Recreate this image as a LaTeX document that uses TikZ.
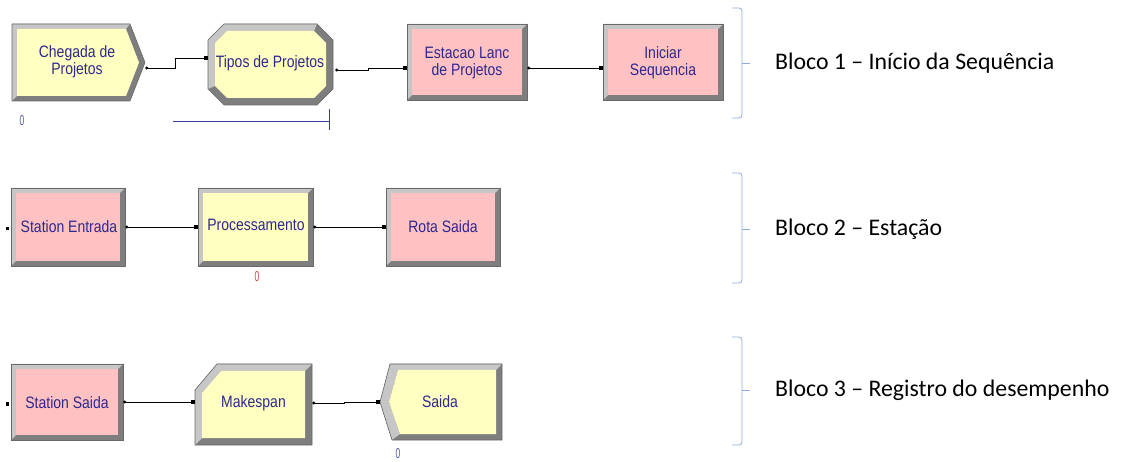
\documentclass[tikz,border=0pt]{standalone}
\usepackage{fontspec}
\setmainfont{Liberation Sans}
\newfontfamily\calib{Carlito}
\usetikzlibrary{arrows.meta}

\definecolor{bevlight}{RGB}{198,198,198}
\definecolor{bevdark}{RGB}{126,126,126}
\definecolor{edgegray}{RGB}{105,105,105}
\definecolor{modyellow}{RGB}{255,255,194}
\definecolor{modpink}{RGB}{255,193,193}
\definecolor{labelnavy}{RGB}{46,40,140}
\definecolor{bracecol}{RGB}{143,170,220}
\definecolor{countblue}{RGB}{80,90,170}
\definecolor{countred}{RGB}{190,80,60}
\definecolor{barblue}{RGB}{60,60,160}

% bevelled rectangular module: x1 y1 x2 y2 bevel fill
\newcommand\bevelbox[6]{%
  \fill[bevdark] (#1,#2) rectangle (#3,#4);
  \fill[bevlight] (#1,#4) -- (#1,#2) -- (#3,#2) -- ({#3-#5},{#2+#5})
    -- ({#1+#5},{#2+#5}) -- ({#1+#5},{#4-#5}) -- cycle;
  \fill[#6] ({#1+#5},{#2+#5}) rectangle ({#3-#5},{#4-#5});
  \draw[edgegray,line width=0.6] (#1,#2) rectangle (#3,#4);
}

\begin{document}
\begin{tikzpicture}[x=1pt,y=-1pt,
  modlabel/.style={text=labelnavy,font=\fontsize{14}{14.5}\selectfont,
    align=center,inner sep=0pt,yscale=1.18},
  modarea/.style 2 args={draw=none,minimum width=#1,minimum height=#2,inner sep=0pt},
  conn/.style={line width=0.8pt,black,{Circle[length=3pt]}-{Square[length=3.5pt,width=3.5pt]}},
  count/.style={font=\fontsize{13}{13}\selectfont,xscale=0.65,yscale=1.1,inner sep=0pt},
  brace/.style={bracecol,line width=0.8pt,rounded corners=3pt},
  blocklabel/.style={anchor=west,inner sep=0pt,font=\calib\fontsize{23.8}{28}\selectfont}]
\useasboundingbox (0,0) rectangle (1125,462);
\fill[white] (0,0) rectangle (1125,462);

% ---------- Block 1 ----------
% Create module (arrow shape)
\fill[bevdark] (12,24) -- (130,24) -- (145,62.5) -- (130,101) -- (12,101) -- cycle;
\fill[bevlight] (12,101) -- (12,24) -- (130,24) -- (126,29) -- (17,29) -- (17,96) -- cycle;
\fill[modyellow] (17,29) -- (126,29) -- (139,62.5) -- (126,96) -- (17,96) -- cycle;
\draw[edgegray,line width=0.6] (12,24) -- (130,24) -- (145,62.5) -- (130,101) -- (12,101) -- cycle;
\node[modarea={133pt}{77pt}] (chegada) at (78.5,62.5) {};
\node[modlabel] at (77,62) {Chegada de\\Projetos};

% Decide module (octagon)
\fill[bevdark] (224,24) -- (317,24) -- (333,40) -- (333,89) -- (317,105) -- (224,105) -- (208,89) -- (208,40) -- cycle;
\fill[bevlight] (208,89) -- (208,40) -- (224,24) -- (317,24) -- (314,31) -- (227,31) -- (215,43) -- (215,86) -- cycle;
\fill[modyellow] (227,31) -- (314,31) -- (326,43) -- (326,86) -- (314,98) -- (227,98) -- (215,86) -- (215,43) -- cycle;
\draw[edgegray,line width=0.6] (224,24) -- (317,24) -- (333,40) -- (333,89) -- (317,105) -- (224,105) -- (208,89) -- (208,40) -- cycle;
\node[modarea={125pt}{81pt}] (tipos) at (270.5,64.5) {};
\node[modlabel] at (270,63) {Tipos de Projetos};

\bevelbox{407}{24}{527}{100}{5}{modpink}
\node[modarea={120pt}{76pt}] (estacao) at (467,62) {};
\node[modlabel] at (467,63) {Estacao Lanc\\de Projetos};

\bevelbox{603}{24}{723}{100}{5}{modpink}
\node[modarea={120pt}{76pt}] (iniciar) at (663,62) {};
\node[modlabel] at (663,63) {Iniciar\\Sequencia};

\draw[conn] ([yshift=-5.5pt]chegada.east) -- ++(30,0) |- ([yshift=6.5pt]tipos.west);
\draw[conn] ([xshift=2pt,yshift=-5.5pt]tipos.east) -- ++(33,0) |- ([yshift=-6pt]estacao.west);
\draw[conn] ([yshift=-6pt]estacao.east) -- ([yshift=-6pt]iniciar.west);

\node[count,text=countblue] (c1) at (22,121) {0};
\draw[barblue,line width=0.9pt] (173,121) -- (329,121) (329,109) -- (329,130);

\draw[brace] (732,8) -- (742,8) -- (742,118) -- (732,118);
\draw[brace] (742,63) -- (750,63);
\node[blocklabel] (b1) at (775,63) {Bloco 1 – Início da Sequência};

% ---------- Block 2 ----------
\bevelbox{11}{188}{125}{266}{5}{modpink}
\node[modarea={114pt}{78pt}] (entrada) at (68,227) {};
\node[modlabel] at (69,227) {Station Entrada};

\bevelbox{198}{188}{313}{266}{5}{modyellow}
\node[modarea={115pt}{78pt}] (proc) at (255.5,227) {};
\node[modlabel] at (256,225) {Processamento};

\bevelbox{386}{188}{500}{266}{5}{modpink}
\node[modarea={114pt}{78pt}] (rota) at (443,227) {};
\node[modlabel] at (443,227) {Rota Saida};

\fill ([xshift=-5pt]entrada.west) rectangle ++(3.5,3.5);
\draw[conn] (entrada.east) -- (proc.west);
\draw[conn] (proc.east) -- (rota.west);
\node[count,text=countred] (c2) at (257,277) {0};

\draw[brace] (732,173) -- (742,173) -- (742,283) -- (732,283);
\draw[brace] (742,229) -- (750,229);
\node[blocklabel] (b2) at (775,229) {Bloco 2 – Estação};

% ---------- Block 3 ----------
\bevelbox{11}{364}{123}{440}{5}{modpink}
\node[modarea={112pt}{76pt}] (ssaida) at (67,402) {};
\node[modlabel] at (67,403) {Station Saida};

% Record module (cut corner)
\fill[bevdark] (217,364) -- (312,364) -- (312,445) -- (195,445) -- (195,390) -- cycle;
\fill[bevlight] (195,445) -- (195,390) -- (217,364) -- (312,364) -- (305,371) -- (221,371) -- (202,393) -- (202,438) -- cycle;
\fill[modyellow] (221,371) -- (305,371) -- (305,438) -- (202,438) -- (202,393) -- cycle;
\draw[edgegray,line width=0.6] (217,364) -- (312,364) -- (312,445) -- (195,445) -- (195,390) -- cycle;
\node[modarea={117pt}{81pt}] (make) at (253.5,404.5) {};
\node[modlabel] at (253.5,403) {Makespan};

% Dispose module (notched left side)
\fill[bevdark] (390,364) -- (502,364) -- (502,440) -- (392,440) -- (380,402) -- cycle;
\fill[bevlight] (392,440) -- (380,402) -- (390,364) -- (502,364) -- (496,370) -- (398,370) -- (389,402) -- (400,434) -- cycle;
\fill[modyellow] (398,370) -- (496,370) -- (496,434) -- (400,434) -- (389,402) -- cycle;
\draw[edgegray,line width=0.6] (390,364) -- (502,364) -- (502,440) -- (392,440) -- (380,402) -- cycle;
\node[modarea={122pt}{76pt}] (saida) at (441,402) {};
\node[modlabel] at (440,402) {Saida};

\fill ([xshift=-5pt]ssaida.west) rectangle ++(3.5,3.5);
\draw[conn] (ssaida.east) -- ([yshift=2.5pt]make.west);
\draw[conn] ([yshift=1.5pt]make.east) -- ++(32,0) |- (saida.west);
\node[count,text=countblue] (c3) at (398,454) {0};

\draw[brace] (732,337) -- (742,337) -- (742,445) -- (732,445);
\draw[brace] (742,390) -- (750,390);
\node[blocklabel] (b3) at (775,390) {Bloco 3 – Registro do desempenho};
\end{tikzpicture}
\end{document}
